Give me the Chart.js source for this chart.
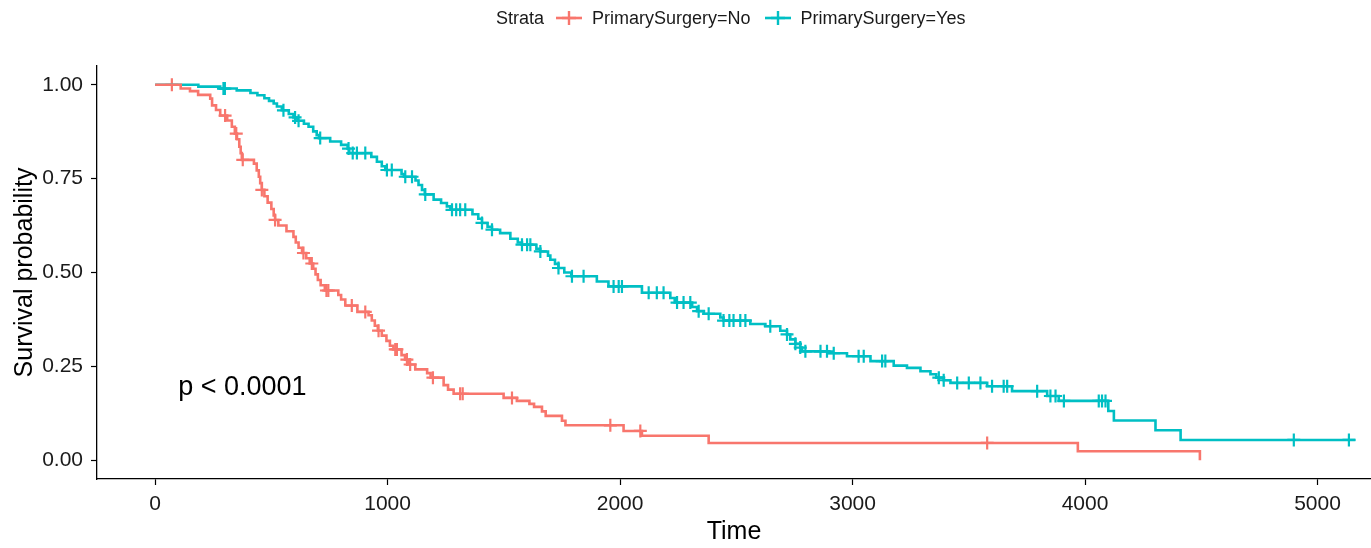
<!DOCTYPE html>
<html>
<head>
<meta charset="utf-8">
<script src="https://cdn.jsdelivr.net/npm/chart.js@4.4.1/dist/chart.umd.min.js"></script>
<style>
  body { margin: 0; background: #fff; }
  #wrap { position: relative; width: 1371px; height: 548px; }
  #legend {
    position: absolute; left: 496px; top: 6px; height: 24px;
    display: flex; align-items: center;
    font-family: "Liberation Sans", Arial, sans-serif; font-size: 18px; color: #1a1a1a;
  }
  #legend .title { margin-right: 12px; }
  #legend svg { margin-right: 10px; }
  #legend .lab { margin-right: 14px; }
</style>
</head>
<body>
<div id="wrap">
  <canvas id="kmChart" width="1371" height="548"></canvas>
  <div id="legend"></div>
</div>
<script>
// Kaplan-Meier steps: time at which the curve drops, and survival after the drop
const noTimes = [0, 110, 150, 185, 237, 245, 262, 280, 310, 330, 343, 352, 362, 368, 373, 425, 437, 446, 452, 459,
  470, 484, 500, 510, 516, 530, 565, 595, 605, 617, 632, 650, 665, 680, 690, 700, 712, 730, 788, 800,
  818, 870, 918, 932, 945, 958, 975, 995, 1010, 1025, 1060, 1075, 1090, 1119, 1170, 1185, 1241, 1260, 1284,
  1499, 1556, 1610, 1630, 1664, 1680, 1750, 1765, 2015, 2094, 2381, 3969, 4494];
const noSurv = [1.0, 0.990, 0.983, 0.973, 0.963, 0.945, 0.933, 0.918, 0.905, 0.888, 0.870, 0.855, 0.835, 0.818, 0.800, 0.790, 0.772, 0.755, 0.738, 0.720,
  0.703, 0.686, 0.669, 0.652, 0.640, 0.625, 0.610, 0.595, 0.580, 0.566, 0.552, 0.538, 0.524, 0.510, 0.495, 0.480, 0.466, 0.452, 0.440, 0.428,
  0.412, 0.395, 0.386, 0.372, 0.358, 0.345, 0.332, 0.318, 0.305, 0.295, 0.280, 0.268, 0.255, 0.242, 0.232, 0.220, 0.200, 0.188, 0.177,
  0.166, 0.158, 0.150, 0.142, 0.130, 0.118, 0.105, 0.093, 0.078, 0.065, 0.046, 0.024, 0.0];
const noCensor = [72, 301, 349, 377, 459, 516, 638, 674, 737, 745, 846, 904, 961, 1033, 1040, 1083, 1097, 1195,
  1312, 1323, 1535, 1958, 2087, 3579];

const yesTimes = [0, 186, 280, 351, 410, 440, 470, 490, 510, 524, 545, 575, 595, 612, 640, 660, 680, 695, 705, 753,
  800, 828, 835, 930, 954, 975, 990, 1060, 1070, 1120, 1133, 1148, 1160, 1198, 1230, 1255, 1270, 1365, 1390, 1406,
  1430, 1449, 1484, 1528, 1560, 1578, 1640, 1657, 1690, 1700, 1720, 1735, 1760, 1790, 1900, 1950, 2094, 2216, 2235, 2310,
  2331, 2360, 2431, 2445, 2560, 2625, 2689, 2718, 2732, 2754, 2775, 2783, 2900, 2976, 3077, 3177, 3234, 3292, 3335, 3360,
  3392, 3421, 3579, 3686, 3837, 3887, 4100, 4124, 4303, 4411, 5163];
const yesSurv = [1.0, 0.995, 0.990, 0.985, 0.978, 0.972, 0.964, 0.957, 0.950, 0.942, 0.932, 0.922, 0.913, 0.904, 0.896, 0.888, 0.876, 0.866, 0.858, 0.849,
  0.840, 0.830, 0.818, 0.808, 0.795, 0.783, 0.773, 0.762, 0.755, 0.745, 0.733, 0.720, 0.708, 0.694, 0.685, 0.676, 0.667, 0.655, 0.643, 0.632,
  0.622, 0.614, 0.605, 0.590, 0.580, 0.574, 0.563, 0.556, 0.545, 0.534, 0.523, 0.512, 0.500, 0.490, 0.476, 0.463, 0.446, 0.432, 0.420, 0.408,
  0.397, 0.390, 0.380, 0.372, 0.363, 0.357, 0.345, 0.335, 0.322, 0.310, 0.300, 0.290, 0.285, 0.277, 0.264, 0.252, 0.246, 0.237, 0.229, 0.220,
  0.213, 0.206, 0.197, 0.184, 0.171, 0.158, 0.131, 0.106, 0.080, 0.054, 0.054];
const yesCensor = [294, 300, 552, 602, 617, 710, 832, 850, 868, 904, 997, 1018, 1076, 1105, 1162, 1277, 1295, 1312, 1334,
  1406, 1449, 1578, 1600, 1614, 1657, 1735, 1793, 1843, 1972, 1994, 2008, 2123, 2158, 2187, 2245, 2273, 2302, 2338, 2381,
  2445, 2470, 2488, 2517, 2539, 2646, 2718, 2754, 2775, 2797, 2862, 2890, 2919, 3026, 3048, 3127, 3141, 3371, 3392, 3450,
  3500, 3550, 3600, 3650, 3665, 3794, 3851, 3873, 3909, 4059, 4073, 4088, 4898, 5135];

const strataNames = ['PrimarySurgery=No', 'PrimarySurgery=Yes'];
const strataColors = ['#F8766D', '#00BFC4'];
const xTicks = [0, 1000, 2000, 3000, 4000, 5000];
const yTicks = [0, 0.25, 0.5, 0.75, 1.0];
const pvalText = 'p < 0.0001';
const pvalPos = [99, 0.194];

const FONT = '"Liberation Sans", Arial, sans-serif';

function toPoints(times, surv) {
  return times.map((t, i) => ({ x: t, y: surv[i] }));
}

// censor marks sit on the curve at the censoring time
function censorPoints(ctimes, times, surv) {
  return ctimes.map(ct => {
    let k = 0;
    for (let i = 0; i < times.length; i++) { if (times[i] <= ct) k = i; }
    return { x: ct, y: surv[k] };
  });
}

const lineStyle = (color) => ({
  showLine: true, stepped: true, borderColor: color, backgroundColor: color,
  borderWidth: 2.6, pointRadius: 0, fill: false
});
const censorStyle = (color) => ({
  showLine: false, pointStyle: 'cross', pointRadius: 6.5, pointBorderWidth: 2.2,
  borderColor: color, backgroundColor: color, pointHoverRadius: 6.5
});

const datasets = [
  Object.assign({ label: strataNames[0], data: toPoints(noTimes, noSurv) }, lineStyle(strataColors[0])),
  Object.assign({ label: strataNames[1], data: toPoints(yesTimes, yesSurv) }, lineStyle(strataColors[1])),
  Object.assign({ label: 'censor No', data: censorPoints(noCensor, noTimes, noSurv) }, censorStyle(strataColors[0])),
  Object.assign({ label: 'censor Yes', data: censorPoints(yesCensor, yesTimes, yesSurv) }, censorStyle(strataColors[1]))
];

const pvalPlugin = {
  id: 'pval',
  afterDatasetsDraw(chart) {
    const { ctx, scales } = chart;
    ctx.save();
    ctx.font = '27px ' + FONT;
    ctx.fillStyle = '#000';
    ctx.textAlign = 'left';
    ctx.textBaseline = 'middle';
    ctx.fillText(pvalText, scales.x.getPixelForValue(pvalPos[0]), scales.y.getPixelForValue(pvalPos[1]));
    ctx.restore();
  }
};

const axisGrid = { drawOnChartArea: false, drawTicks: true, tickLength: 6, tickColor: '#000', tickWidth: 1.2 };
const axisBorder = { display: true, color: '#000', width: 1.3 };

new Chart(document.getElementById('kmChart').getContext('2d'), {
  type: 'scatter',
  data: { datasets: datasets },
  options: {
    responsive: false,
    animation: false,
    events: [],
    layout: { autoPadding: false, padding: { top: 66, right: 0, left: 0, bottom: 0 } },
    plugins: { legend: { display: false }, tooltip: { enabled: false } },
    scales: {
      x: {
        type: 'linear', min: -250, max: 5230,
        grid: axisGrid, border: axisBorder,
        afterBuildTicks: s => { s.ticks = xTicks.map(v => ({ value: v })); },
        afterFit: s => { s.height = 69; },
        ticks: { color: '#1a1a1a', font: { family: FONT, size: 21 }, padding: 7, maxRotation: 0,
                 callback: v => String(v) },
        title: { display: true, text: 'Time', color: '#000', font: { family: FONT, size: 25 },
                 padding: { top: 0, bottom: 1 } }
      },
      y: {
        type: 'linear', min: -0.05, max: 1.05,
        grid: axisGrid, border: axisBorder,
        afterBuildTicks: s => { s.ticks = yTicks.map(v => ({ value: v })); },
        afterFit: s => { s.width = 97; },
        ticks: { color: '#1a1a1a', font: { family: FONT, size: 21 }, padding: 8,
                 callback: v => Number(v).toFixed(2) },
        title: { display: true, text: 'Survival probability', color: '#000', font: { family: FONT, size: 25 },
                 padding: { top: 10, bottom: 0 } }
      }
    }
  },
  plugins: [pvalPlugin]
});

// legend: Strata + line-with-cross keys
const legend = document.getElementById('legend');
const title = document.createElement('span');
title.className = 'title';
title.textContent = 'Strata';
legend.appendChild(title);
strataNames.forEach((name, i) => {
  const c = strataColors[i];
  const key = document.createElementNS('http://www.w3.org/2000/svg', 'svg');
  key.setAttribute('width', '26');
  key.setAttribute('height', '20');
  key.innerHTML = '<line x1="0" y1="10" x2="26" y2="10" stroke="' + c + '" stroke-width="2.6"/>' +
    '<line x1="13" y1="3" x2="13" y2="17" stroke="' + c + '" stroke-width="2.4"/>' +
    '<line x1="6" y1="10" x2="20" y2="10" stroke="' + c + '" stroke-width="2.4"/>';
  legend.appendChild(key);
  const lab = document.createElement('span');
  lab.className = 'lab';
  lab.textContent = name;
  legend.appendChild(lab);
});
</script>
</body>
</html>
